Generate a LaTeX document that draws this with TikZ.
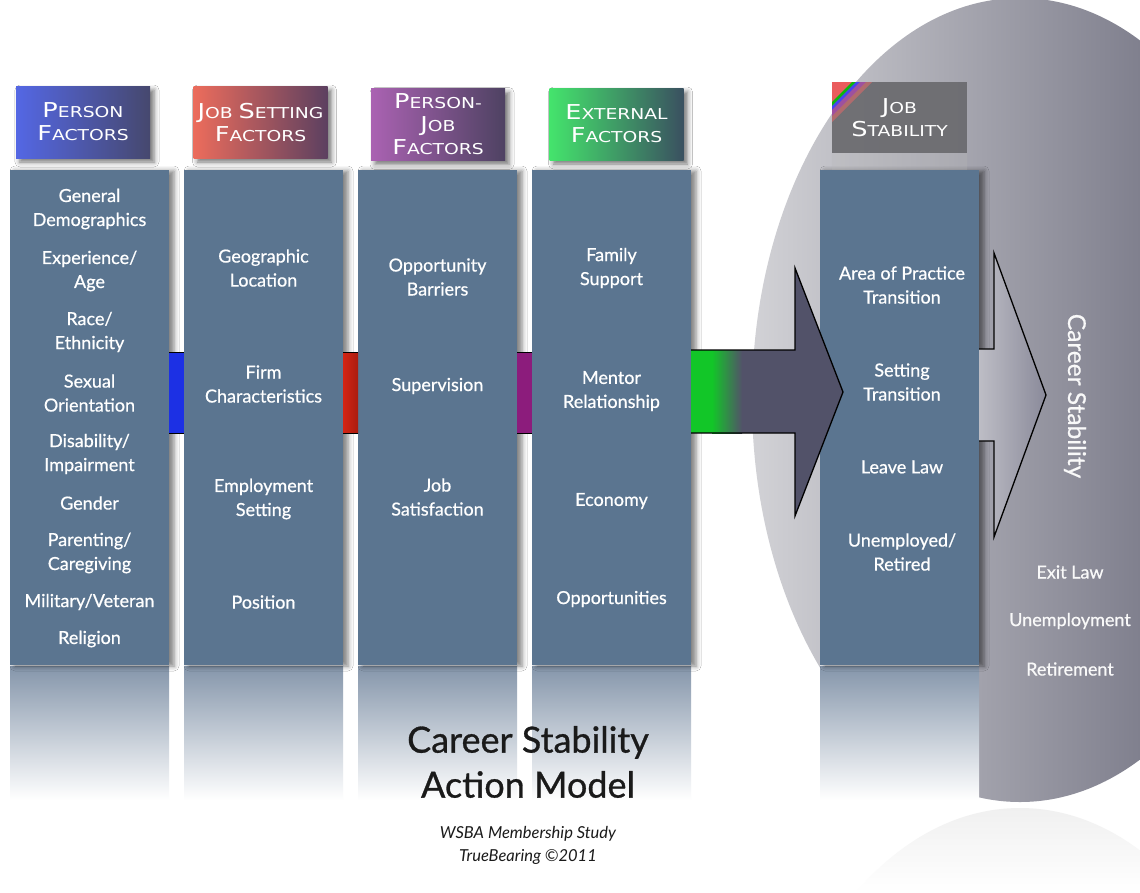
\documentclass[tikz,border=0pt]{standalone}
\usepackage{fontspec}
\setmainfont{Lato}
\newfontfamily\hdrfont[FakeStretch=1.25]{DejaVu Sans}
\newfontfamily\colfont[FakeBold=0.6]{Lato}
\newfontfamily\titlefont[FakeBold=0.8]{Lato}
\usetikzlibrary{shadows.blur}

\definecolor{colbg}{HTML}{5B7590}
\definecolor{colrefl}{HTML}{8495AA}
\definecolor{ellL}{HTML}{D2D2D6}
\definecolor{ellR}{HTML}{80808E}
\definecolor{arrowfill}{HTML}{525269}
\definecolor{arrowBL}{HTML}{BDBDC5}
\definecolor{arrowBR}{HTML}{8A8A9A}
\definecolor{barblue}{HTML}{1C30E4}
\definecolor{barred}{HTML}{D42414}
\definecolor{barpurple}{HTML}{8C1C7C}
\definecolor{bargreen}{HTML}{12C628}
\definecolor{hblueL}{HTML}{5467E4}
\definecolor{hblueR}{HTML}{46486E}
\definecolor{hredL}{HTML}{EC6C5C}
\definecolor{hredM}{HTML}{B04444}
\definecolor{hredR}{HTML}{5C4060}
\definecolor{hpurL}{HTML}{AA62B2}
\definecolor{hpurR}{HTML}{4E4262}
\definecolor{hgrnL}{HTML}{44E46C}
\definecolor{hgrnR}{HTML}{3A5060}
\definecolor{hgray}{HTML}{6C6C70}
\definecolor{titlecol}{HTML}{1A1A1A}

% small-caps look for the header labels: large initial, smaller capitals
\newcommand\hcap[2]{{\fontsize{20.5}{23}\selectfont #1}{\fontsize{15}{23}\selectfont #2}}

\begin{document}
\begin{tikzpicture}[x=1pt,y=-1pt,
  column/.style={rectangle, fill=colbg, minimum width=159pt, minimum height=495pt,
    inner sep=0pt, outer sep=0pt,
    blur shadow={shadow xshift=5pt, shadow yshift=-1pt, shadow blur radius=5pt, shadow opacity=50}},
  header/.style={rectangle, minimum width=134pt, minimum height=72pt, inner sep=0pt,
    text=white, align=center, font=\hdrfont\fontsize{15}{23}\selectfont,
    blur shadow={shadow xshift=4pt, shadow yshift=-4pt, shadow blur radius=5pt, shadow opacity=55}},
  ct/.style={text=white, align=center, inner sep=0pt, font=\colfont\fontsize{18}{24}\selectfont},
  rt/.style={text=white!95!gray, align=center, inner sep=0pt, font=\colfont\fontsize{18}{24}\selectfont},
  barline/.style={draw=black, line width=1pt},
  arrowline/.style={draw=black, line width=1.3pt, line join=miter}
]
\useasboundingbox (0,0) rectangle (1140,892);
\fill[white] (0,0) rectangle (1140,892);

% ---- large grey ellipse and its reflection ----
\begin{scope}
  \clip (1020,400) ellipse [x radius=268, y radius=402];
  \shade[left color=ellL, right color=ellR] (752,-5) rectangle (1140,805);
\end{scope}
\begin{scope}
  \clip (1020,1210) ellipse [x radius=268, y radius=402];
  \shade[top color=gray!12, bottom color=white] (752,806) rectangle (1140,892);
\end{scope}

% ---- column reflections ----
\foreach \xa in {10,184,358,532,820}
  \shade[top color=colrefl, bottom color=white] (\xa,665) rectangle ++(159,135);
\foreach \xa in {10,184,358,532,820}
  \draw[white!80!colrefl, line width=0.8pt] (\xa,665.5) -- ++(159,0);

% ---- columns ----
\node[column] (c1) at (89.5,417.5) {};
\node[column] (c2) at (263.5,417.5) {};
\node[column] (c3) at (437.5,417.5) {};
\node[column] (c4) at (611.5,417.5) {};
\node[column] (c5) at (899.5,417.5) {};

% ---- coloured links between columns ----
\fill[barblue] (c1.east |- 0,352) rectangle (c2.west |- 0,433);
\draw[barline] (c1.east |- 0,352) -- (c2.west |- 0,352) (c1.east |- 0,433) -- (c2.west |- 0,433);
\shade[left color=barred, right color=barred!80!black] (c2.east |- 0,352) rectangle (c3.west |- 0,433);
\draw[barline] (c2.east |- 0,352) -- (c3.west |- 0,352) (c2.east |- 0,433) -- (c3.west |- 0,433);
\fill[barpurple] (c3.east |- 0,352) rectangle (c4.west |- 0,433);
\draw[barline] (c3.east |- 0,352) -- (c4.west |- 0,352) (c3.east |- 0,433) -- (c4.west |- 0,433);

% ---- big arrow from the external factors into job stability ----
\coordinate (tipA) at (843,392);
\fill[arrowfill] (c4.east |- 0,350) -- (795,350) -- (795,268) -- (tipA) -- (795,516)
  -- (795,433) -- (c4.east |- 0,433) -- cycle;
\fill[bargreen] (c4.east |- 0,350) rectangle (712,433);
\shade[left color=bargreen, right color=arrowfill] (712,350) rectangle (742,433);
\draw[arrowline] (c4.east |- 0,350) -- (795,350) -- (795,268) -- (tipA) -- (795,516)
  -- (795,433) -- (c4.east |- 0,433);

% ---- arrow from job stability towards career stability ----
\coordinate (tipB) at (1046,395);
\shade[left color=arrowBL, right color=arrowBR]
  (c5.east |- 0,349) -- (994,349) -- (994,253) -- (tipB) -- (994,537)
  -- (994,441) -- (c5.east |- 0,441) -- cycle;
\draw[arrowline] (c5.east |- 0,349) -- (994,349) -- (994,253) -- (tipB) -- (994,537)
  -- (994,441) -- (c5.east |- 0,441);

% ---- headers ----
\node[header, left color=hblueL, right color=hblueR] (h1) at (83,122)
  {\hcap{P}{ERSON}\\\hcap{F}{ACTORS}};
\node[header, left color=hredL, middle color=hredM, right color=hredR] (h2) at (260.5,122)
  {\hcap{J}{OB} \hcap{S}{ETTING}\\\hcap{F}{ACTORS}};
\node[header, left color=hpurL, right color=hpurR] (h3) at (438,124.5)
  {\hcap{P}{ERSON-}\\\hcap{J}{OB}\\\hcap{F}{ACTORS}};
\node[header, left color=hgrnL, right color=hgrnR] (h4) at (616.5,124)
  {\hcap{E}{XTERNAL}\\\hcap{F}{ACTORS}};

% job stability header: translucent grey with a striped corner
\fill[gray!55, opacity=0.25] (832,153) rectangle (967,170);
\node[rectangle, minimum width=135pt, minimum height=71pt, inner sep=0pt, fill=hgray,
  fill opacity=0.95] (h5) at (899.5,117.5) {};
\begin{scope}
  \clip (h5.north west) rectangle (h5.south east);
  \fill[red!65!white, opacity=0.85] (832,82) -- (852,82) -- (832,102) -- cycle;
  \fill[green!75!black, opacity=0.9] (852,82) -- (856,82) -- (832,106) -- (832,102) -- cycle;
  \fill[blue!75!white, opacity=0.9] (856,82) -- (860,82) -- (832,110) -- (832,106) -- cycle;
  \fill[violet!70!white, opacity=0.85] (860,82) -- (866,82) -- (832,116) -- (832,110) -- cycle;
  \fill[red!60!white, opacity=0.45] (866,82) -- (872,82) -- (832,122) -- (832,116) -- cycle;
\end{scope}
\node[text=white, align=center, inner sep=0pt, font=\hdrfont\fontsize{15}{23}\selectfont]
  (h5t) at (h5) {\hcap{J}{OB}\\\hcap{S}{TABILITY}};

% ---- column texts ----
\node[ct] (p1) at (c1 |- 0,209) {General\\Demographics};
\node[ct] (p2) at (c1 |- 0,271) {Experience/\\Age};
\node[ct] (p3) at (c1 |- 0,332) {Race/\\Ethnicity};
\node[ct] (p4) at (c1 |- 0,393) {Sexual\\Orientation};
\node[ct] (p5) at (c1 |- 0,454) {Disability/\\Impairment};
\node[ct] (p6) at (c1 |- 0,503) {Gender};
\node[ct] (p7) at (c1 |- 0,553) {Parenting/\\Caregiving};
\node[ct] (p8) at (c1 |- 0,602) {Military/Veteran};
\node[ct] (p9) at (c1 |- 0,639) {Religion};

\node[ct] (j1) at (c2 |- 0,268) {Geographic\\Location};
\node[ct] (j2) at (c2 |- 0,384) {Firm\\Characteristics};
\node[ct] (j3) at (c2 |- 0,499) {Employment\\Setting};
\node[ct] (j4) at (c2 |- 0,602) {Position};

\node[ct] (q1) at (c3 |- 0,277) {Opportunity\\Barriers};
\node[ct] (q2) at (c3 |- 0,386) {Supervision};
\node[ct] (q3) at (c3 |- 0,497) {Job\\Satisfaction};

\node[ct] (e1) at (c4 |- 0,268) {Family\\Support};
\node[ct] (e2) at (c4 |- 0,391) {Mentor\\Relationship};
\node[ct] (e3) at (c4 |- 0,501) {Economy};
\node[ct] (e4) at (c4 |- 0,599) {Opportunities};

\node[ct] (s1) at (902,285) {Area of Practice\\Transition};
\node[ct] (s2) at (902,382) {Setting\\Transition};
\node[ct] (s3) at (902,467) {Leave Law};
\node[ct] (s4) at (902,552) {Unemployed/\\Retired};

% ---- career stability side ----
\node[rt, rotate=-90, font=\colfont\fontsize{24.5}{28}\selectfont] (cs) at (1075,396) {Career Stability};
\node[rt] (r1) at (1070,572) {Exit Law};
\node[rt] (r2) at (1070,621) {Unemployment};
\node[rt] (r3) at (1070,669) {Retirement};

% ---- title ----
\node[text=titlecol, align=center, inner sep=0pt, font=\titlefont\fontsize{36}{45}\selectfont]
  (title) at (528,762) {Career Stability\\Action Model};
\node[text=titlecol, align=center, inner sep=0pt, font=\itshape\fontsize{16.5}{23}\selectfont]
  (sub) at (528,845) {WSBA Membership Study\\TrueBearing ©2011};
\end{tikzpicture}
\end{document}
